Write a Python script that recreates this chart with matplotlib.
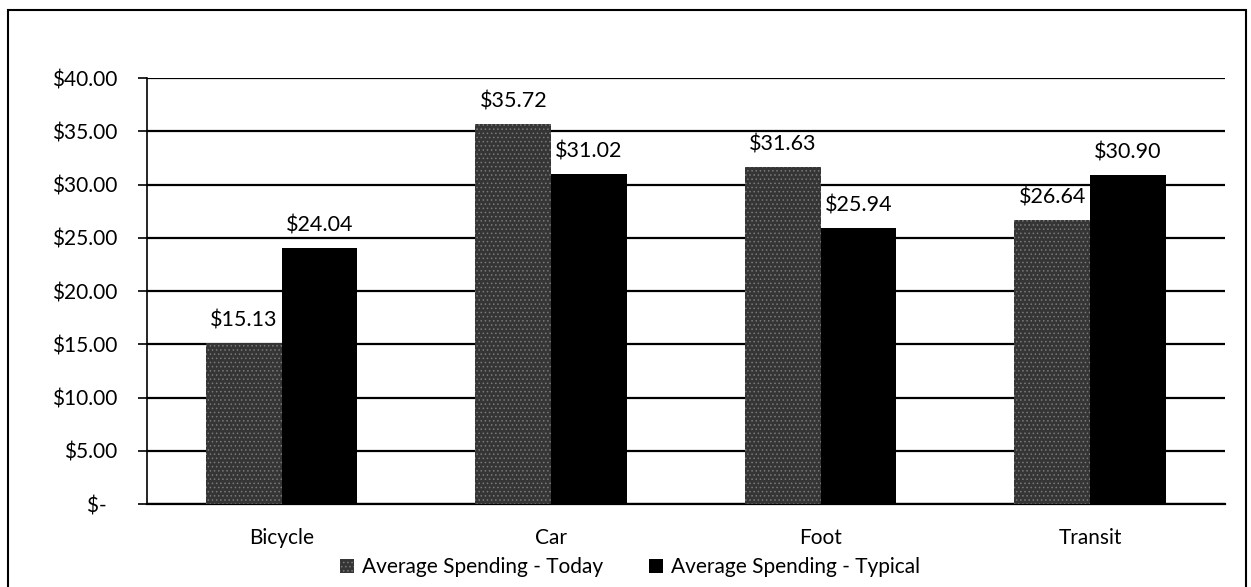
import matplotlib.pyplot as plt
import numpy as np
from matplotlib.patches import Rectangle
from matplotlib.ticker import FuncFormatter

# Data
modes = ["Bicycle", "Car", "Foot", "Transit"]
today_spend = [15.13, 35.72, 31.63, 26.64]
typical_spend = [24.04, 31.02, 25.94, 30.90]
y_ticks = [0, 5, 10, 15, 20, 25, 30, 35, 40]

plt.rcParams["font.family"] = ["Lato", "DejaVu Sans"]
plt.rcParams["hatch.linewidth"] = 0.6

fig = plt.figure(figsize=(12.51, 5.87), dpi=100)
ax = fig.add_axes([0.1175, 0.141, 0.8615, 0.726])

# outer chart frame
fig.patches.append(Rectangle((0.006, -0.05), 0.99, 1.033, transform=fig.transFigure,
                             fill=False, edgecolor="black", linewidth=1.5))

x = np.arange(len(modes))
w = 0.281
b1 = ax.bar(x - w / 2, today_spend, w, color="#353535", hatch="....",
            edgecolor="#7a7a7a", linewidth=0, label="Average Spending - Today", zorder=3)
b2 = ax.bar(x + w / 2, typical_spend, w, color="black",
            label="Average Spending - Typical", zorder=3)

for bars, vals in [(b1, today_spend), (b2, typical_spend)]:
    for bar, v in zip(bars, vals):
        ax.annotate(f"${v:.2f}", (bar.get_x() + bar.get_width() / 2, v),
                    xytext=(0, 9), textcoords="offset points",
                    ha="center", va="bottom", fontsize=15.5, zorder=4)

ax.set_xlim(-0.5, len(modes) - 0.5)
ax.set_ylim(0, 40)
ax.set_yticks(y_ticks)
ax.yaxis.set_major_formatter(FuncFormatter(lambda v, p: "$-  " if v == 0 else f"${v:.2f}"))
ax.set_xticks(x)
ax.set_xticklabels(modes)
ax.tick_params(axis="both", labelsize=15)
ax.tick_params(axis="x", length=0, pad=17)
ax.tick_params(axis="y", length=6.5, width=1.2, pad=15)

ax.grid(axis="y", color="black", linewidth=1.6, zorder=0)
for s in ["top", "right"]:
    ax.spines[s].set_visible(False)
ax.spines["left"].set_linewidth(1.2)
ax.spines["bottom"].set_linewidth(1.6)

ax.legend(loc="center", bbox_to_anchor=(0.448, -0.148), ncol=2, frameon=False,
          fontsize=15, handlelength=0.7, handleheight=0.7, handletextpad=0.35,
          columnspacing=2.2, borderpad=0, borderaxespad=0)

fig.savefig("out.png", dpi=100)
